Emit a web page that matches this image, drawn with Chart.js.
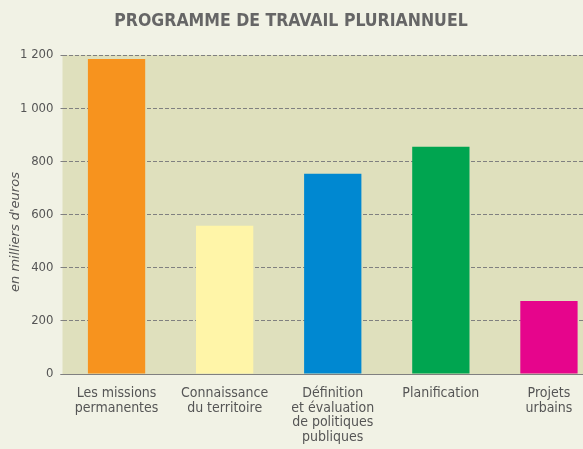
<!DOCTYPE html>
<html>
<head>
<meta charset="utf-8">
<script src="https://cdn.jsdelivr.net/npm/chart.js@4"></script>
<style>
  html, body { margin: 0; padding: 0; background: #f1f2e5; overflow: hidden; }
  #wrap { width: 583px; height: 449px; overflow: hidden; }
</style>
</head>
<body>
<div id="wrap">
  <canvas id="myChart" width="603" height="449"></canvas>
</div>
<script>
const categories = [
  ['Les missions', 'permanentes'],
  ['Connaissance', 'du territoire'],
  ['Définition', 'et évaluation', 'de politiques', 'publiques'],
  ['Planification'],
  ['Projets', 'urbains']
];
const values = [1185, 558, 753, 855, 275];
const barColors = ['#f7931e', '#fff5a8', '#0088d1', '#00a550', '#e6058c'];
const yTicks = [0, 200, 400, 600, 800, 1000, 1200];
const chartTitle = 'PROGRAMME DE TRAVAIL PLURIANNUEL';
const yTitle = "en milliers d'euros";

// fond de la zone du graphique, titres, ligne du zéro
const decor = {
  id: 'decor',
  beforeDraw(chart) {
    const a = chart.chartArea;
    const ctx = chart.ctx;
    ctx.save();
    ctx.fillStyle = '#dfe0bd';
    ctx.fillRect(a.left, a.top, a.right - a.left, a.bottom - a.top);
    ctx.restore();
  },
  afterDraw(chart) {
    const ctx = chart.ctx;
    const a = chart.chartArea;
    // titre centré sur la fenêtre visible (583 px)
    ctx.save();
    ctx.fillStyle = '#666666';
    ctx.font = 'bold 17.5px "DejaVu Sans Condensed"';
    ctx.textAlign = 'center';
    ctx.textBaseline = 'alphabetic';
    ctx.fillText(chartTitle, 291, 26);
    ctx.restore();

    ctx.save();
    ctx.translate(16, 232);
    ctx.rotate(-Math.PI / 2);
    ctx.fillStyle = '#555555';
    ctx.font = 'italic 13px "DejaVu Sans"';
    ctx.textAlign = 'center';
    ctx.textBaseline = 'middle';
    ctx.fillText(yTitle, 0, 0);
    ctx.restore();

    // la ligne du zéro passe devant les barres
    ctx.save();
    ctx.strokeStyle = '#808080';
    ctx.lineWidth = 1;
    ctx.setLineDash([4, 2]);
    ctx.beginPath();
    ctx.moveTo(a.left - 2, Math.round(a.bottom) + 0.5);
    ctx.lineTo(a.right, Math.round(a.bottom) + 0.5);
    ctx.stroke();
    ctx.restore();
  }
};

const data = {
  labels: categories,
  datasets: [{
    data: values,
    backgroundColor: barColors,
    borderWidth: 0,
    barPercentage: 0.53,
    categoryPercentage: 1
  }]
};

const config = {
  type: 'bar',
  data: data,
  plugins: [decor],
  options: {
    responsive: false,
    animation: false,
    layout: { padding: { top: 55, left: 0, right: 0, bottom: 0 } },
    plugins: {
      legend: { display: false },
      tooltip: { enabled: false },
      title: { display: false }
    },
    scales: {
      x: {
        afterFit(scale) { scale.height = 75; },
        grid: { display: false },
        border: { display: false },
        ticks: {
          color: '#555555',
          font: { family: 'DejaVu Sans Condensed', size: 14, lineHeight: 1.05 },
          padding: 4,
          maxRotation: 0,
          autoSkip: false
        }
      },
      y: {
        min: 0,
        max: 1200,
        afterBuildTicks(axis) { axis.ticks = yTicks.map(v => ({ value: v })); },
        afterFit(scale) { scale.width = 62.5; },
        border: { display: false, dash: [4, 2] },
        grid: {
          color: '#808080',
          lineWidth: 1,
          tickLength: 2,
          drawTicks: true
        },
        ticks: {
          color: '#555555',
          font: { family: 'DejaVu Sans Condensed', size: 13 },
          padding: 7,
          callback: v => String(v).replace(/\B(?=(\d{3})+(?!\d))/g, ' ')
        }
      }
    }
  }
};

const myChart = new Chart(document.getElementById('myChart'), config);
</script>
</body>
</html>
